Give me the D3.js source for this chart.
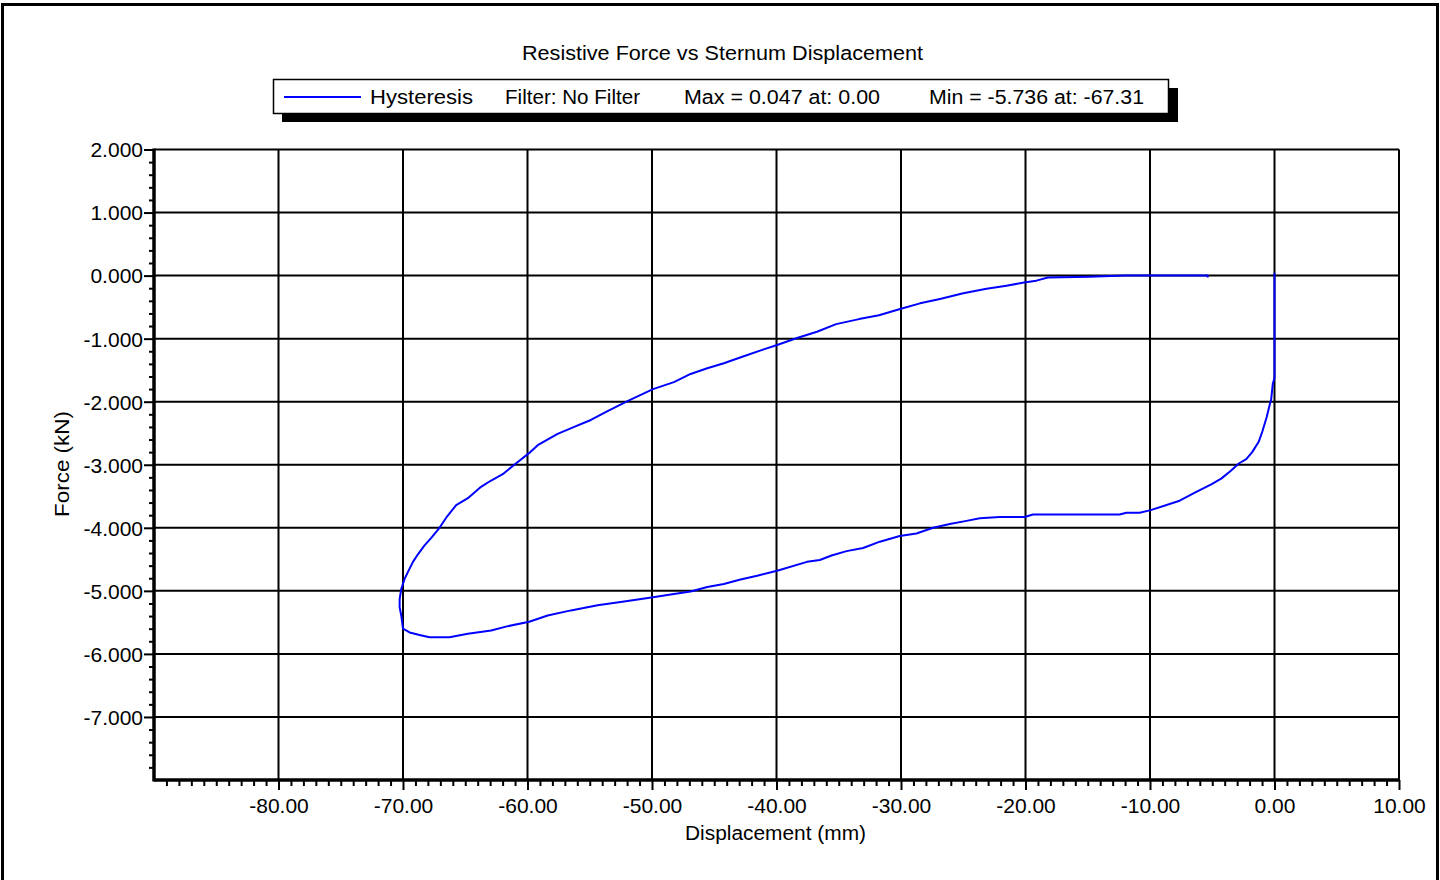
<!DOCTYPE html>
<html>
<head>
<meta charset="utf-8">
<script src="https://cdn.jsdelivr.net/npm/d3@7"></script>
<style>
  html, body { margin: 0; padding: 0; background: #fff; }
  svg text { font-family: "Liberation Sans", Arial, sans-serif; fill: #000; }
</style>
</head>
<body>
<svg id="chart" width="1440" height="880"></svg>
<script>
// ---- Data ----
const titleText = "Resistive Force vs Sternum Displacement";
const xLabel = "Displacement (mm)";
const yLabel = "Force (kN)";
const legendItems = ["Hysteresis", "Filter: No Filter", "Max = 0.047 at: 0.00", "Min = -5.736 at: -67.31"];

const xTicks = [-80, -70, -60, -50, -40, -30, -20, -10, 0, 10];
const yTicks = [2, 1, 0, -1, -2, -3, -4, -5, -6, -7];

// displacement (mm) along the trace, in drawing order
const displacement = [
  0, 0, -0.14, -0.27, -0.35, -0.62, -0.99, -1.28, -1.79, -2.27, -2.87, -3.48, -4.28, -5.08, -6.28, -7.62,
  -9.95, -10.83, -11.90, -12.44, -19.40, -20.07, -22.07, -23.67, -24.74, -26.08, -27.42, -28.76, -30.10,
  -31.70, -33.04, -34.37, -35.58, -36.52, -37.55, -39.95, -41.55, -42.89, -44.23, -45.56, -46.90, -48.24,
  -49.92, -52.24, -54.37, -56.51, -58.38, -59.86, -61.58, -62.92, -64.79, -66.27, -67.31, -67.87, -68.67,
  -69.47, -70.00, -70.14, -70.27, -70.27,
  -70.14, -69.87, -69.60, -69.20, -68.80, -68.27, -67.73, -67.07, -66.53, -65.73, -64.79, -63.73, -62.92,
  -61.99, -61.06, -59.90, -59.18, -57.58, -56.25, -54.91, -53.57, -51.97, -49.92, -48.24, -46.90, -45.56,
  -44.23, -42.63, -41.03, -39.95, -38.35, -36.75, -35.21, -33.37, -31.77, -30.07, -28.47, -26.87, -25.00,
  -23.13, -21.53, -20.12, -19.13, -18.20, -14.85, -12.00, -5.37, -5.37
];
// force (kN) along the trace, same order
const force = [
  0.047, -1.62, -1.72, -1.97, -2.02, -2.24, -2.48, -2.64, -2.80, -2.91, -2.98, -3.09, -3.22, -3.31, -3.43, -3.57,
  -3.72, -3.76, -3.76, -3.79, -3.79, -3.83, -3.83, -3.85, -3.89, -3.94, -4.00, -4.09, -4.13,
  -4.22, -4.32, -4.37, -4.44, -4.51, -4.54, -4.68, -4.76, -4.82, -4.89, -4.94, -5.01, -5.05,
  -5.10, -5.17, -5.23, -5.31, -5.39, -5.49, -5.56, -5.63, -5.68, -5.736, -5.736, -5.736, -5.70,
  -5.66, -5.60, -5.39, -5.26, -5.13,
  -4.97, -4.81, -4.70, -4.54, -4.42, -4.28, -4.16, -4.00, -3.84, -3.64, -3.53, -3.35, -3.25,
  -3.15, -3.00, -2.82, -2.69, -2.51, -2.40, -2.29, -2.15, -1.99, -1.80, -1.69, -1.56, -1.47,
  -1.39, -1.28, -1.17, -1.10, -0.99, -0.89, -0.77, -0.69, -0.63, -0.53, -0.44, -0.37, -0.28,
  -0.21, -0.16, -0.11, -0.08, -0.03, -0.02, 0.00, 0.00, -0.03
];

// ---- Drawing ----
const svg = d3.select("#chart");
const font = "Liberation Sans, Arial, sans-serif";
const hyph = f => (v => f(v).replace("\u2212", "-"));

// outer frame
svg.append("rect").attr("x", 2.5).attr("y", 4.5).attr("width", 1435).attr("height", 900)
  .attr("fill", "none").attr("stroke", "#000").attr("stroke-width", 3);

const x = d3.scaleLinear().domain([-90, 10]).range([154, 1399]);
const y = d3.scaleLinear().domain([-8, 2]).range([780, 149.5]);

// title
svg.append("text").attr("x", 522).attr("y", 60)
  .attr("textLength", 401).attr("lengthAdjust", "spacingAndGlyphs")
  .style("font-size", "20px").text(titleText);

// legend with shadow
svg.append("rect").attr("x", 282).attr("y", 88).attr("width", 896).attr("height", 34).attr("fill", "#000");
svg.append("rect").attr("x", 273.5).attr("y", 79.5).attr("width", 895).attr("height", 34)
  .attr("fill", "#fff").attr("stroke", "#000").attr("stroke-width", 1.5);
svg.append("line").attr("x1", 284).attr("x2", 361).attr("y1", 97).attr("y2", 97)
  .attr("stroke", "#0000ff").attr("stroke-width", 2);
const legendX = [370, 505, 684, 929];
const legendW = [103, 135, 196, 215];
legendItems.forEach((t, i) => {
  svg.append("text").attr("x", legendX[i]).attr("y", 104)
    .attr("textLength", legendW[i]).attr("lengthAdjust", "spacingAndGlyphs")
    .style("font-size", "20px").text(t);
});

// grid
const g = svg.append("g");
g.selectAll(".vg").data(xTicks).join("line")
  .attr("x1", d => x(d)).attr("x2", d => x(d)).attr("y1", y(2)).attr("y2", y(-8))
  .attr("stroke", "#000").attr("stroke-width", 2);
g.selectAll(".hg").data(yTicks).join("line")
  .attr("x1", x(-90)).attr("x2", x(10)).attr("y1", d => y(d)).attr("y2", d => y(d))
  .attr("stroke", "#000").attr("stroke-width", 2);

// y axis
const yAxis = svg.append("g").attr("transform", `translate(${x(-90)},0)`);
const yMinor = d3.range(-7.8, 2.0001, 0.2).filter(v => Math.abs(v - Math.round(v)) > 0.01);
yAxis.call(d3.axisLeft(y).tickValues(yMinor).tickSize(5).tickFormat(""));
yAxis.call(g2 => g2.select(".domain").remove());
const yMaj = svg.append("g").attr("transform", `translate(${x(-90)},0)`)
  .call(d3.axisLeft(y).tickValues(yTicks).tickSize(10).tickFormat(hyph(d3.format(".3f"))));
yMaj.select(".domain").remove();
yMaj.selectAll("text").style("font-size", "21px").style("font-family", font).attr("x", -11).attr("dy", "0.35em");

// x axis
const xAxisMinor = svg.append("g").attr("transform", `translate(0,${y(-8)})`)
  .call(d3.axisBottom(x).tickValues(d3.range(-89, 10, 1).filter(v => v % 10 !== 0)).tickSize(6).tickFormat(""));
xAxisMinor.select(".domain").remove();
const xMaj = svg.append("g").attr("transform", `translate(0,${y(-8)})`)
  .call(d3.axisBottom(x).tickValues(xTicks).tickSize(10).tickFormat(hyph(d3.format(".2f"))));
xMaj.select(".domain").remove();
xMaj.selectAll("text").style("font-size", "21px").style("font-family", font).attr("dy", "0.85em").attr("y", 15);
svg.selectAll("g.tick line").attr("stroke", "#000").attr("stroke-width", 2);

// thick axis lines
svg.append("line").attr("x1", x(-90)).attr("x2", x(-90)).attr("y1", y(2) - 1).attr("y2", y(-8) + 1.5)
  .attr("stroke", "#000").attr("stroke-width", 3.5);
svg.append("line").attr("x1", x(-90)).attr("x2", x(10) + 1).attr("y1", y(-8)).attr("y2", y(-8))
  .attr("stroke", "#000").attr("stroke-width", 3.5);

// axis titles
svg.append("text").attr("x", 685).attr("y", 840)
  .attr("textLength", 181).attr("lengthAdjust", "spacingAndGlyphs")
  .style("font-size", "20px").text(xLabel);
svg.append("text").attr("transform", "translate(69,517) rotate(-90)")
  .attr("textLength", 106).attr("lengthAdjust", "spacingAndGlyphs")
  .style("font-size", "20px").text(yLabel);

// curve
const pts = displacement.map((d, i) => [d, force[i]]);
svg.append("path").datum(pts)
  .attr("d", d3.line().x(d => x(d[0])).y(d => y(d[1])))
  .attr("fill", "none").attr("stroke", "#0000ff").attr("stroke-width", 2).attr("stroke-linejoin", "round");
</script>
</body>
</html>
